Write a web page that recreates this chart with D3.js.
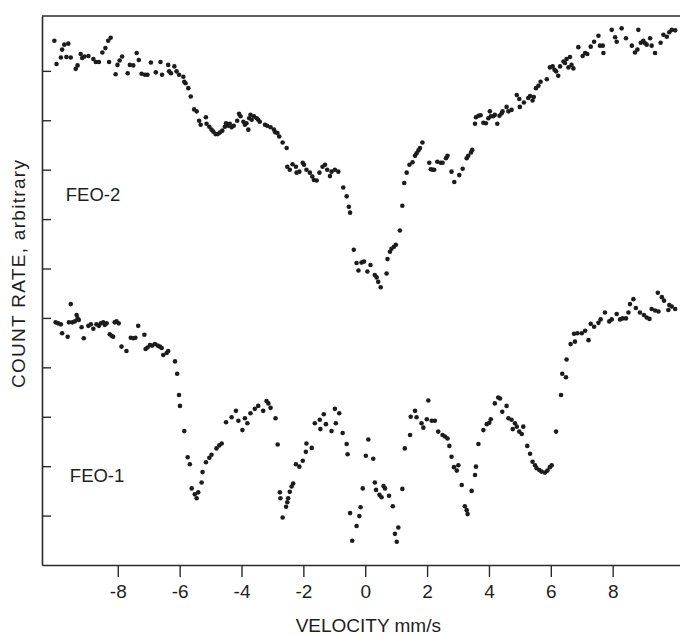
<!DOCTYPE html>
<html>
<head>
<meta charset="utf-8">
<script src="https://cdn.jsdelivr.net/npm/d3@7"></script>
<style>
	body { margin: 0; background: #fff; }
	svg { display: block; }
	text { font-family: "Liberation Sans", Arial, sans-serif; fill: #1e1e1e; }
</style>
</head>
<body>
<svg width="680" height="636"></svg>
<script>
// velocity (mm/s), count rate (arbitrary units, one tick = 1)
let feo2 = [
	[-10.05,10.61],[-9.98,10.14],[-9.84,10.27],[-9.80,10.43],[-9.73,10.53],[-9.66,10.28],[-9.60,10.55],[-9.52,10.27],
	[-9.36,10.04],[-9.30,10.11],[-9.20,10.34],[-9.15,10.26],[-9.08,10.29],[-8.95,10.30],[-8.79,10.24],[-8.71,10.18],
	[-8.61,10.18],[-8.50,10.37],[-8.40,10.46],[-8.31,10.61],[-8.28,10.18],[-8.23,10.67],[-8.07,9.93],[-8.01,10.12],
	[-7.94,10.21],[-7.86,10.29],[-7.68,9.95],[-7.61,10.12],[-7.50,10.11],[-7.39,10.36],[-7.32,10.22],[-7.23,9.94],
	[-7.12,9.92],[-7.04,9.92],[-6.93,10.17],[-6.77,9.97],[-6.62,10.18],[-6.57,9.92],[-6.37,10.12],[-6.34,9.99],
	[-6.28,9.95],[-6.17,10.09],[-6.10,9.99],[-6.02,9.92],[-5.88,9.88],[-5.85,9.78],[-5.81,9.75],[-5.72,9.65],
	[-5.64,9.48],[-5.53,9.22],[-5.45,9.18],[-5.37,8.99],[-5.32,8.91],[-5.15,9.06],[-5.13,8.93],[-5.04,8.87],
	[-4.97,8.81],[-4.91,8.77],[-4.84,8.72],[-4.77,8.72],[-4.70,8.75],[-4.62,8.79],[-4.54,8.87],[-4.50,8.94],
	[-4.43,8.89],[-4.38,8.93],[-4.32,8.86],[-4.25,8.89],[-4.14,8.99],[-4.08,9.13],[-4.03,9.08],[-3.94,8.97],
	[-3.89,8.91],[-3.84,8.94],[-3.78,8.81],[-3.75,9.04],[-3.71,9.11],[-3.67,9.01],[-3.60,9.08],[-3.51,9.04],
	[-3.46,9.01],[-3.41,8.97],[-3.24,8.91],[-3.17,8.89],[-3.06,8.86],[-2.95,8.81],[-2.91,8.76],[-2.84,8.74],
	[-2.78,8.67],[-2.67,8.55],[-2.54,8.44],[-2.52,8.06],[-2.44,8.00],[-2.35,8.11],[-2.24,8.06],[-2.22,7.94],
	[-2.13,7.96],[-2.02,8.14],[-1.98,8.10],[-1.90,8.00],[-1.79,7.94],[-1.71,7.86],[-1.66,7.79],[-1.57,7.78],
	[-1.48,7.94],[-1.38,8.06],[-1.30,8.10],[-1.23,8.00],[-1.14,7.87],[-1.09,7.96],[-0.98,8.00],[-0.87,7.96],
	[-0.71,7.64],[-0.60,7.46],[-0.53,7.25],[-0.49,7.13],[-0.37,6.38],[-0.28,6.11],[-0.22,5.96],[-0.12,6.12],
	[-0.04,6.14],[0.07,5.94],[0.17,6.07],[0.31,5.87],[0.37,5.82],[0.42,5.73],[0.50,5.62],[0.69,5.90],
	[0.72,6.19],[0.80,6.34],[0.85,6.40],[0.93,6.44],[0.99,6.48],[1.12,6.77],[1.20,7.27],[1.26,7.73],
	[1.34,7.94],[1.43,8.10],[1.53,8.15],[1.61,8.28],[1.66,8.33],[1.72,8.39],[1.77,8.44],[1.85,8.55],
	[2.07,8.14],[2.12,8.01],[2.18,8.00],[2.23,8.00],[2.33,8.16],[2.44,8.14],[2.50,8.14],[2.61,8.23],
	[2.66,8.28],[2.79,7.96],[2.88,7.75],[3.04,7.89],[3.15,8.02],[3.28,8.23],[3.33,8.28],[3.42,8.35],
	[3.46,8.40],[3.55,8.93],[3.58,9.06],[3.66,9.09],[3.73,9.10],[3.82,8.95],[3.90,8.94],[3.98,9.04],
	[4.03,9.18],[4.06,9.08],[4.14,9.08],[4.19,9.11],[4.27,8.93],[4.34,9.09],[4.41,9.14],[4.44,9.18],
	[4.57,9.27],[4.63,9.18],[4.73,9.21],[4.90,9.51],[4.98,9.43],[5.00,9.27],[5.13,9.36],[5.27,9.45],
	[5.33,9.49],[5.41,9.40],[5.45,9.47],[5.52,9.65],[5.60,9.70],[5.67,9.78],[5.87,9.83],[5.97,10.07],
	[6.06,10.09],[6.12,10.02],[6.17,9.99],[6.24,9.90],[6.30,10.09],[6.41,10.19],[6.46,10.16],[6.51,10.24],
	[6.57,10.07],[6.62,10.28],[6.67,10.12],[6.73,10.05],[6.89,10.48],[7.03,10.30],[7.11,10.36],[7.18,10.34],
	[7.29,10.49],[7.40,10.59],[7.54,10.71],[7.59,10.51],[7.68,10.51],[7.70,10.36],[7.97,10.83],[8.08,10.68],
	[8.13,10.59],[8.29,10.86],[8.43,10.66],[8.62,10.51],[8.72,10.37],[8.80,10.43],[8.83,10.83],[8.91,10.57],
	[8.99,10.61],[9.05,10.56],[9.10,10.53],[9.21,10.66],[9.26,10.51],[9.37,10.36],[9.55,10.57],[9.64,10.73],
	[9.75,10.69],[9.83,10.78],[9.91,10.83],[10.02,10.82]
];

let feo1 = [
	[-10.01,4.91],[-9.93,4.89],[-9.84,4.87],[-9.80,4.69],[-9.62,4.62],[-9.58,4.91],[-9.52,5.28],[-9.47,4.91],
	[-9.39,4.93],[-9.33,5.06],[-9.30,4.99],[-9.26,4.96],[-9.17,4.81],[-9.10,4.59],[-8.95,4.84],[-8.87,4.87],
	[-8.79,4.78],[-8.69,4.87],[-8.61,4.84],[-8.55,4.89],[-8.47,4.91],[-8.42,4.86],[-8.36,4.89],[-8.26,4.67],
	[-8.20,4.64],[-8.15,4.62],[-8.10,4.91],[-8.04,4.93],[-7.97,4.89],[-7.88,4.42],[-7.72,4.33],[-7.58,4.60],
	[-7.50,4.59],[-7.43,4.60],[-7.34,4.84],[-7.14,4.66],[-7.10,4.37],[-7.04,4.40],[-6.96,4.45],[-6.89,4.44],
	[-6.80,4.47],[-6.71,4.44],[-6.64,4.42],[-6.58,4.39],[-6.53,4.25],[-6.42,4.29],[-6.37,4.33],[-6.15,4.12],
	[-6.08,3.87],[-6.02,3.44],[-5.99,3.22],[-5.85,2.71],[-5.74,2.18],[-5.67,2.04],[-5.61,1.55],[-5.51,1.43],
	[-5.45,1.35],[-5.40,1.47],[-5.29,1.67],[-5.26,1.88],[-5.15,2.08],[-5.04,2.17],[-4.97,2.23],[-4.81,2.36],
	[-4.72,2.42],[-4.64,2.46],[-4.50,2.89],[-4.32,2.99],[-4.18,3.12],[-4.10,2.92],[-3.97,2.73],[-3.89,2.97],
	[-3.81,2.87],[-3.71,3.07],[-3.57,3.16],[-3.46,3.22],[-3.30,3.12],[-3.19,3.32],[-3.13,3.27],[-3.06,3.18],
	[-2.90,2.97],[-2.83,2.44],[-2.76,1.47],[-2.74,1.35],[-2.67,0.96],[-2.56,1.18],[-2.52,1.27],[-2.49,1.35],
	[-2.44,1.48],[-2.38,1.59],[-2.33,1.65],[-2.24,2.04],[-2.13,1.99],[-2.02,2.11],[-1.92,2.29],[-1.90,2.46],
	[-1.73,2.37],[-1.63,2.87],[-1.47,2.94],[-1.45,2.75],[-1.34,3.05],[-1.27,2.85],[-1.09,2.71],[-0.98,3.16],
	[-0.95,2.87],[-0.84,3.07],[-0.73,2.67],[-0.60,2.45],[-0.57,2.24],[-0.49,1.05],[-0.42,0.49],[-0.28,0.79],
	[-0.19,0.99],[-0.15,1.17],[-0.08,1.55],[0.02,2.21],[0.10,2.54],[0.26,2.15],[0.31,1.67],[0.35,1.52],
	[0.46,1.42],[0.53,1.37],[0.59,1.60],[0.64,1.55],[0.77,1.40],[0.89,1.19],[0.96,0.63],[1.02,0.47],
	[1.07,0.76],[1.20,1.54],[1.28,2.36],[1.45,2.63],[1.47,3.00],[1.61,3.12],[1.66,2.99],[1.82,2.87],
	[1.88,2.78],[1.99,2.95],[2.04,3.33],[2.15,2.92],[2.25,2.92],[2.36,2.70],[2.50,2.63],[2.58,2.60],
	[2.66,2.56],[2.72,2.41],[2.79,2.19],[2.87,1.98],[2.96,1.91],[3.01,2.02],[3.12,1.62],[3.22,1.19],
	[3.28,1.11],[3.31,1.03],[3.44,1.50],[3.55,1.82],[3.58,1.99],[3.66,2.45],[3.82,2.73],[3.93,2.85],
	[4.01,2.88],[4.06,2.95],[4.19,3.27],[4.30,3.39],[4.36,3.37],[4.43,3.10],[4.57,3.22],[4.63,2.97],
	[4.73,2.94],[4.77,2.75],[4.84,2.87],[4.90,2.80],[4.98,2.70],[5.06,2.65],[5.11,2.80],[5.24,2.41],
	[5.33,2.25],[5.41,2.09],[5.49,2.02],[5.54,1.96],[5.63,1.92],[5.70,1.89],[5.81,1.87],[5.89,1.91],
	[5.97,1.98],[6.03,2.02],[6.17,2.70],[6.33,3.44],[6.37,3.87],[6.49,3.80],[6.51,4.16],[6.64,4.47],
	[6.75,4.68],[6.78,4.52],[6.86,4.69],[7.00,4.69],[7.11,4.74],[7.22,4.55],[7.29,4.88],[7.40,4.82],
	[7.54,4.90],[7.61,4.97],[7.75,5.11],[7.89,4.93],[7.97,4.97],[8.13,5.08],[8.24,4.97],[8.32,4.99],
	[8.43,4.99],[8.51,5.11],[8.56,5.28],[8.67,5.38],[8.75,5.20],[8.88,5.11],[9.01,5.06],[9.10,5.01],
	[9.19,4.98],[9.26,5.18],[9.37,5.15],[9.46,5.51],[9.48,5.13],[9.59,5.42],[9.66,5.35],[9.80,5.16],
	[9.83,5.26],[9.91,5.23],[10.02,5.18]
];

let xTicks = [-8, -6, -4, -2, 0, 2, 4, 6, 8];
let yTicks = [1, 2, 3, 4, 5, 6, 7, 8, 9, 10];
let spectra = [
	{ name: "FEO-2", data: feo2, labelV: -9.68, labelC: 7.36 },
	{ name: "FEO-1", data: feo1, labelV: -9.55, labelC: 1.68 }
];

let svg = d3.select("svg");
let x = d3.scaleLinear().domain([-10.45, 10.5]).range([42, 690]);
let y = d3.scaleLinear().domain([0, 11.11]).range([565, 16]);

let gaxis = svg.append("g").attr('class','axis');
let gobj = svg.append("g").attr('class','obj');
let gtext = svg.append("g").attr('class','labels');

// bottom axis, ticks pointing down
let xAxis = gaxis.append("g")
	.attr("transform", "translate(0," + y(0) + ")")
	.call(d3.axisBottom(x).tickValues(xTicks).tickSize(12).tickPadding(8).tickSizeOuter(0)
		.tickFormat(d => d < 0 ? "-" + Math.abs(d) : d));

// left axis, ticks pointing inward
let yAxis = gaxis.append("g")
	.attr("transform", "translate(" + x.range()[0] + ",0)")
	.call(d3.axisLeft(y).tickValues(yTicks).tickSize(-9).tickSizeOuter(0).tickFormat(""));

gaxis.selectAll(".domain").attr("stroke", "#2a2a2a").attr("stroke-width", 1.6);
gaxis.selectAll(".tick line").attr("stroke", "#2a2a2a").attr("stroke-width", 1.4);
xAxis.selectAll(".tick text")
	.attr("font-family", "Liberation Sans, Arial, sans-serif")
	.attr("font-size", 19)
	.attr("fill", "#1e1e1e");

// top frame line
gaxis.append("line")
	.attr("x1", x.range()[0]).attr("x2", 680)
	.attr("y1", y.range()[1]).attr("y2", y.range()[1])
	.attr("stroke", "#2a2a2a").attr("stroke-width", 1.6);

spectra.forEach(s => {
	gobj.append("g").selectAll("circle")
		.data(s.data)
		.enter().append("circle")
		.attr("r", 2.3)
		.attr("fill", "#1c1c1c")
		.attr("cx", d => x(d[0]))
		.attr("cy", d => y(d[1]));

	gtext.append("text")
		.attr("x", x(s.labelV))
		.attr("y", y(s.labelC))
		.attr("font-size", 18.5)
		.text(s.name);
});

gtext.append("text")
	.attr("x", x(0.1))
	.attr("y", 632)
	.attr("text-anchor", "middle")
	.attr("font-size", 19)
	.text("VELOCITY  mm/s");

gtext.append("text")
	.attr("transform", "translate(25," + y(5.9) + ") rotate(-90)")
	.attr("text-anchor", "middle")
	.attr("font-size", 19)
	.attr("letter-spacing", 1.3)
	.text("COUNT RATE, arbitrary");
</script>
</body>
</html>
